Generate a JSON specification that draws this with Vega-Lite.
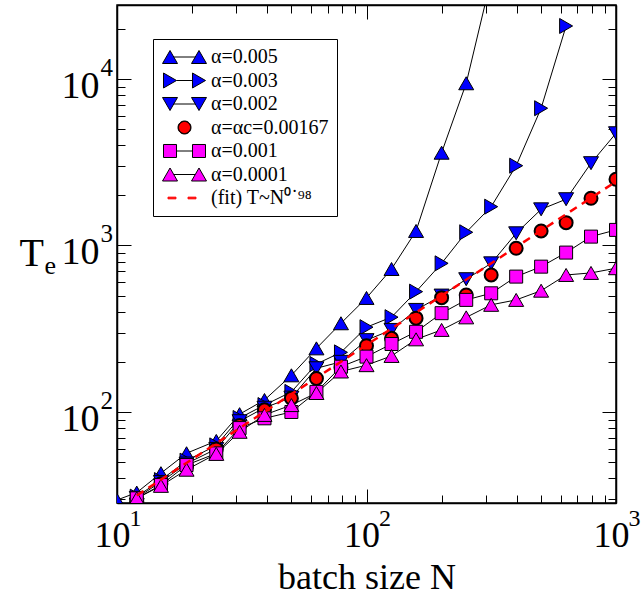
{
"$schema": "https://vega.github.io/schema/vega-lite/v6.json",
"width": 499, "height": 498,
"autosize": {"type": "none"},
"padding": {"left": 117, "top": 5, "right": 26, "bottom": 92},
"background": "white",
"config": {
  "view": {"stroke": "black", "strokeWidth": 1.5},
  "axis": {"grid": false, "labelFlush": false, "labelOverlap": false, "domainColor": "black", "domainWidth": 1.5, "tickColor": "black", "tickWidth": 1, "labelFont": "Liberation Serif", "labelFontSize": 38, "labelColor": "black", "titleFont": "Liberation Serif", "titleFontSize": 36, "titleColor": "black", "titleFontWeight": "normal"},
  "legend": {"orient": "none", "legendX": 36, "legendY": 34, "padding": 8, "strokeColor": "black", "strokeWidth": 1, "fillColor": "white", "labelFont": "Liberation Serif", "labelFontSize": 20, "labelColor": "black", "labelOffset": 30, "symbolSize": 196, "symbolStrokeWidth": 1, "rowPadding": 3.5, "symbolOpacity": 1, "labelLimit": 300}
},
"datasets": {
  "pts": [
    {"s":"α=0.005","N":10,"T":29.6},{"s":"α=0.005","N":12,"T":32.8},{"s":"α=0.005","N":15,"T":42.9},{"s":"α=0.005","N":19,"T":56.5},{"s":"α=0.005","N":25,"T":67},{"s":"α=0.005","N":31,"T":97},{"s":"α=0.005","N":39,"T":118},{"s":"α=0.005","N":50,"T":166},{"s":"α=0.005","N":63,"T":241},{"s":"α=0.005","N":79,"T":341},{"s":"α=0.005","N":100,"T":484},{"s":"α=0.005","N":126,"T":722},{"s":"α=0.005","N":158,"T":1222},{"s":"α=0.005","N":200,"T":3605},{"s":"α=0.005","N":251,"T":9420},{"s":"α=0.005","N":316,"T":40000},
    {"s":"α=0.003","N":12,"T":31},{"s":"α=0.003","N":15,"T":39},{"s":"α=0.003","N":19,"T":51},{"s":"α=0.003","N":25,"T":63},{"s":"α=0.003","N":31,"T":92},{"s":"α=0.003","N":39,"T":110},{"s":"α=0.003","N":50,"T":132},{"s":"α=0.003","N":63,"T":194},{"s":"α=0.003","N":79,"T":228},{"s":"α=0.003","N":100,"T":323},{"s":"α=0.003","N":126,"T":371},{"s":"α=0.003","N":158,"T":528},{"s":"α=0.003","N":200,"T":781},{"s":"α=0.003","N":251,"T":1200},{"s":"α=0.003","N":316,"T":1710},{"s":"α=0.003","N":398,"T":3013},{"s":"α=0.003","N":501,"T":6670},{"s":"α=0.003","N":631,"T":20800},
    {"s":"α=0.002","N":12,"T":30.5},{"s":"α=0.002","N":15,"T":38},{"s":"α=0.002","N":19,"T":49},{"s":"α=0.002","N":25,"T":60},{"s":"α=0.002","N":31,"T":88},{"s":"α=0.002","N":39,"T":106},{"s":"α=0.002","N":50,"T":122},{"s":"α=0.002","N":63,"T":183},{"s":"α=0.002","N":79,"T":200},{"s":"α=0.002","N":100,"T":270},{"s":"α=0.002","N":126,"T":311},{"s":"α=0.002","N":158,"T":410},{"s":"α=0.002","N":200,"T":500},{"s":"α=0.002","N":251,"T":627},{"s":"α=0.002","N":316,"T":781},{"s":"α=0.002","N":398,"T":1183},{"s":"α=0.002","N":501,"T":1648},{"s":"α=0.002","N":631,"T":1895},{"s":"α=0.002","N":794,"T":3120},{"s":"α=0.002","N":1000,"T":4720},
    {"s":"α=αc=0.00167","N":12,"T":29},{"s":"α=αc=0.00167","N":15,"T":37},{"s":"α=αc=0.00167","N":19,"T":47},{"s":"α=αc=0.00167","N":25,"T":60},{"s":"α=αc=0.00167","N":31,"T":83},{"s":"α=αc=0.00167","N":39,"T":103},{"s":"α=αc=0.00167","N":50,"T":121},{"s":"α=αc=0.00167","N":63,"T":159},{"s":"α=αc=0.00167","N":79,"T":185},{"s":"α=αc=0.00167","N":100,"T":250},{"s":"α=αc=0.00167","N":126,"T":277},{"s":"α=αc=0.00167","N":158,"T":366},{"s":"α=αc=0.00167","N":200,"T":486},{"s":"α=αc=0.00167","N":251,"T":504},{"s":"α=αc=0.00167","N":316,"T":665},{"s":"α=αc=0.00167","N":398,"T":962},{"s":"α=αc=0.00167","N":501,"T":1222},{"s":"α=αc=0.00167","N":631,"T":1371},{"s":"α=αc=0.00167","N":794,"T":1921},{"s":"α=αc=0.00167","N":1000,"T":2498},
    {"s":"α=0.001","N":12,"T":30.3},{"s":"α=0.001","N":15,"T":36.4},{"s":"α=0.001","N":19,"T":48},{"s":"α=0.001","N":25,"T":56.4},{"s":"α=0.001","N":31,"T":80},{"s":"α=0.001","N":39,"T":91.6},{"s":"α=0.001","N":50,"T":100},{"s":"α=0.001","N":63,"T":132},{"s":"α=0.001","N":79,"T":187},{"s":"α=0.001","N":100,"T":215},{"s":"α=0.001","N":126,"T":256},{"s":"α=0.001","N":158,"T":303},{"s":"α=0.001","N":200,"T":392},{"s":"α=0.001","N":251,"T":471},{"s":"α=0.001","N":316,"T":516},{"s":"α=0.001","N":398,"T":650},{"s":"α=0.001","N":501,"T":746},{"s":"α=0.001","N":631,"T":906},{"s":"α=0.001","N":794,"T":1130},{"s":"α=0.001","N":1000,"T":1240},
    {"s":"α=0.0001","N":12,"T":30.3},{"s":"α=0.0001","N":15,"T":36},{"s":"α=0.0001","N":19,"T":45},{"s":"α=0.0001","N":25,"T":56},{"s":"α=0.0001","N":31,"T":76},{"s":"α=0.0001","N":39,"T":96},{"s":"α=0.0001","N":50,"T":110},{"s":"α=0.0001","N":63,"T":130},{"s":"α=0.0001","N":79,"T":175},{"s":"α=0.0001","N":100,"T":191},{"s":"α=0.0001","N":126,"T":217},{"s":"α=0.0001","N":158,"T":273},{"s":"α=0.0001","N":200,"T":311},{"s":"α=0.0001","N":251,"T":370},{"s":"α=0.0001","N":316,"T":440},{"s":"α=0.0001","N":398,"T":471},{"s":"α=0.0001","N":501,"T":535},{"s":"α=0.0001","N":631,"T":665},{"s":"α=0.0001","N":794,"T":684},{"s":"α=0.0001","N":1000,"T":730}
  ],
  "fit": [{"N":12,"T":31.5},{"N":1000,"T":2420}]
},
"layer": [
  {
    "data": {"name": "pts"},
    "transform": [{"filter": "datum.s != 'α=αc=0.00167'"}],
    "mark": {"type": "line", "color": "black", "strokeWidth": 1, "clip": true},
    "encoding": {
      "x": {"field": "N", "type": "quantitative", "scale": {"type": "log", "domain": [10, 1000], "nice": false}, "axis": {"orient": "bottom", "values": [10, 100, 1000], "tickSize": -14, "labelPadding": 57, "labelFontSize": 36, "labelBaseline": "alphabetic", "labelOffset": -5, "labelExpr": "'10'", "title": "batch size N", "titleY": 85, "titleBaseline": "alphabetic"}},
      "y": {"field": "T", "type": "quantitative", "scale": {"type": "log", "domain": [28.4, 27800], "nice": false}, "axis": {"orient": "left", "values": [100, 1000, 10000], "tickSize": -14, "labelPadding": 32, "labelAlign": "right", "labelBaseline": "middle", "labelOffset": 7.5, "labelExpr": "'10'", "title": "T", "titleFontSize": 40, "titleAngle": 0, "titleX": -98, "titleY": 248, "titleAlign": "left", "titleBaseline": "middle"}},
      "detail": {"field": "s", "type": "nominal"}
    }
  },
  {
    "data": {"name": "pts"},
    "transform": [{"filter": {"field": "s", "equal": "α=0.005"}}],
    "mark": {"type": "point", "shape": "triangle-up", "filled": true, "fill": "#0000ff", "stroke": "black", "strokeWidth": 1, "size": 225, "opacity": 1, "clip": true},
    "encoding": {
      "x": {"field": "N", "type": "quantitative", "scale": {"type": "log", "domain": [10, 1000], "nice": false}, "axis": {"orient": "bottom", "values": [20,30,40,50,60,70,80,90,200,300,400,500,600,700,800,900], "tickSize": -8, "labels": false, "domain": false, "title": null}},
      "y": {"field": "T", "type": "quantitative", "scale": {"type": "log", "domain": [28.4, 27800], "nice": false}, "axis": {"orient": "left", "values": [30,40,50,60,70,80,90,200,300,400,500,600,700,800,900,2000,3000,4000,5000,6000,7000,8000,9000,20000], "tickSize": -8, "labels": false, "domain": false, "title": null}}
    }
  },
  {
    "data": {"name": "pts"},
    "transform": [{"filter": {"field": "s", "equal": "α=0.003"}}],
    "mark": {"type": "point", "shape": "triangle-right", "filled": true, "fill": "#0000ff", "stroke": "black", "strokeWidth": 1, "size": 225, "opacity": 1, "clip": true},
    "encoding": {
      "x": {"field": "N", "type": "quantitative", "scale": {"type": "log", "domain": [10, 1000], "nice": false}, "axis": {"orient": "top", "values": [10, 100, 1000], "tickSize": -14, "labels": false, "title": null}},
      "y": {"field": "T", "type": "quantitative", "scale": {"type": "log", "domain": [28.4, 27800], "nice": false}, "axis": {"orient": "right", "values": [100, 1000, 10000], "tickSize": -14, "labels": false, "title": null}}
    }
  },
  {
    "data": {"name": "pts"},
    "transform": [{"filter": {"field": "s", "equal": "α=0.002"}}],
    "mark": {"type": "point", "shape": "triangle-down", "filled": true, "fill": "#0000ff", "stroke": "black", "strokeWidth": 1, "size": 225, "opacity": 1, "clip": true},
    "encoding": {
      "x": {"field": "N", "type": "quantitative", "scale": {"type": "log", "domain": [10, 1000], "nice": false}, "axis": {"orient": "top", "values": [20,30,40,50,60,70,80,90,200,300,400,500,600,700,800,900], "tickSize": -8, "labels": false, "domain": false, "title": null}},
      "y": {"field": "T", "type": "quantitative", "scale": {"type": "log", "domain": [28.4, 27800], "nice": false}, "axis": {"orient": "right", "values": [30,40,50,60,70,80,90,200,300,400,500,600,700,800,900,2000,3000,4000,5000,6000,7000,8000,9000,20000], "tickSize": -8, "labels": false, "domain": false, "title": null}}
    }
  },
  {
    "data": {"name": "pts"},
    "transform": [{"filter": {"field": "s", "equal": "α=αc=0.00167"}}],
    "mark": {"type": "point", "shape": "circle", "filled": true, "fill": "#ff0000", "stroke": "black", "strokeWidth": 2, "size": 169, "opacity": 1, "clip": true},
    "encoding": {
      "x": {"field": "N", "type": "quantitative", "scale": {"type": "log", "domain": [10, 1000], "nice": false}, "axis": {"orient": "bottom", "values": [10, 100, 1000], "ticks": false, "tickSize": 0, "domain": false, "labelPadding": 22, "labelFontSize": 24, "labelBaseline": "alphabetic", "labelOffset": 18, "labelExpr": "datum.value == 10 ? '1' : datum.value == 100 ? '2' : '3'", "title": null}},
      "y": {"field": "T", "type": "quantitative", "scale": {"type": "log", "domain": [28.4, 27800], "nice": false}, "axis": {"orient": "left", "values": [100, 1000, 10000], "ticks": false, "tickSize": 0, "domain": false, "labelPadding": 17, "labelFontSize": 25, "labelAlign": "left", "labelBaseline": "middle", "labelOffset": -11.5, "labelExpr": "datum.value == 100 ? '2' : datum.value == 1000 ? '3' : '4'", "title": "e", "titleFontSize": 26, "titleAngle": 0, "titleX": -73, "titleY": 268, "titleAlign": "left", "titleBaseline": "alphabetic"}}
    }
  },
  {
    "data": {"name": "pts"},
    "transform": [{"filter": {"field": "s", "equal": "α=0.001"}}],
    "mark": {"type": "point", "shape": "square", "filled": true, "fill": "#ff00ff", "stroke": "black", "strokeWidth": 1, "size": 169, "opacity": 1, "clip": true},
    "encoding": {
      "x": {"field": "N", "type": "quantitative", "scale": {"type": "log", "domain": [10, 1000], "nice": false}, "axis": null},
      "y": {"field": "T", "type": "quantitative", "scale": {"type": "log", "domain": [28.4, 27800], "nice": false}, "axis": null}
    }
  },
  {
    "data": {"name": "pts"},
    "transform": [{"filter": {"field": "s", "equal": "α=0.0001"}}],
    "mark": {"type": "point", "shape": "triangle-up", "filled": true, "fill": "#ff00ff", "stroke": "black", "strokeWidth": 1, "size": 225, "opacity": 1, "clip": true},
    "encoding": {
      "x": {"field": "N", "type": "quantitative", "scale": {"type": "log", "domain": [10, 1000], "nice": false}, "axis": null},
      "y": {"field": "T", "type": "quantitative", "scale": {"type": "log", "domain": [28.4, 27800], "nice": false}, "axis": null}
    }
  },
  {
    "data": {"name": "fit"},
    "mark": {"type": "line", "color": "#ff0000", "strokeWidth": 2.5, "strokeDash": [8, 6], "clip": true},
    "encoding": {
      "x": {"field": "N", "type": "quantitative", "scale": {"type": "log", "domain": [10, 1000], "nice": false}, "axis": null},
      "y": {"field": "T", "type": "quantitative", "scale": {"type": "log", "domain": [28.4, 27800], "nice": false}, "axis": null}
    }
  },
  {
    "data": {"name": "pts"},
    "mark": {"type": "point", "filled": true, "opacity": 0, "clip": true},
    "encoding": {
      "x": {"field": "N", "type": "quantitative", "scale": {"type": "log", "domain": [10, 1000], "nice": false}, "axis": null},
      "y": {"field": "T", "type": "quantitative", "scale": {"type": "log", "domain": [28.4, 27800], "nice": false}, "axis": null},
      "color": {"field": "s", "type": "nominal", "scale": {"domain": ["α=0.005","α=0.003","α=0.002","α=αc=0.00167","α=0.001","α=0.0001","(fit) T~N⁰˙⁹⁸"], "range": ["#0000ff","#0000ff","#0000ff","#ff0000","#ff00ff","#ff00ff","#ff0000"]}, "legend": {"title": null}},
      "stroke": {"field": "s", "type": "nominal", "scale": {"domain": ["α=0.005","α=0.003","α=0.002","α=αc=0.00167","α=0.001","α=0.0001","(fit) T~N⁰˙⁹⁸"], "range": ["black","black","black","black","black","black","#ff0000"]}, "legend": {"title": null}},
      "shape": {"field": "s", "type": "nominal", "scale": {"domain": ["α=0.005","α=0.003","α=0.002","α=αc=0.00167","α=0.001","α=0.0001","(fit) T~N⁰˙⁹⁸"], "range": [
        "M-0.14,-0.93L0.93,0.93L-1.21,0.93ZM4,-0.93L5.07,0.93L2.93,0.93ZM0.4,0L3.46,0",
        "M-1.07,-1.07L0.79,0L-1.07,1.07ZM3.07,-1.07L4.93,0L3.07,1.07ZM0.79,0L3.07,0",
        "M-0.14,0.93L0.93,-0.93L-1.21,-0.93ZM4,0.93L5.07,-0.93L2.93,-0.93ZM0.4,0L3.46,0",
        "M1,0A0.93,0.93 0 1,1 2.86,0A0.93,0.93 0 1,1 1,0ZM1.07,0A0.86,0.86 0 1,1 2.79,0A0.86,0.86 0 1,1 1.07,0Z",
        "M-1.07,-0.93H0.79V0.93H-1.07ZM3.07,-0.93H4.93V0.93H3.07ZM0.79,0L3.07,0",
        "M-0.14,-0.93L0.93,0.93L-1.21,0.93ZM4,-0.93L5.07,0.93L2.93,0.93ZM0.4,0L3.46,0",
        "M-0.43,-0.12H0.71V0.12H-0.43ZM2.43,-0.12H3.57V0.12H2.43Z"
      ]}, "legend": {"title": null}}
    }
  }
],
"resolve": {"axis": {"x": "independent", "y": "independent"}}
}
